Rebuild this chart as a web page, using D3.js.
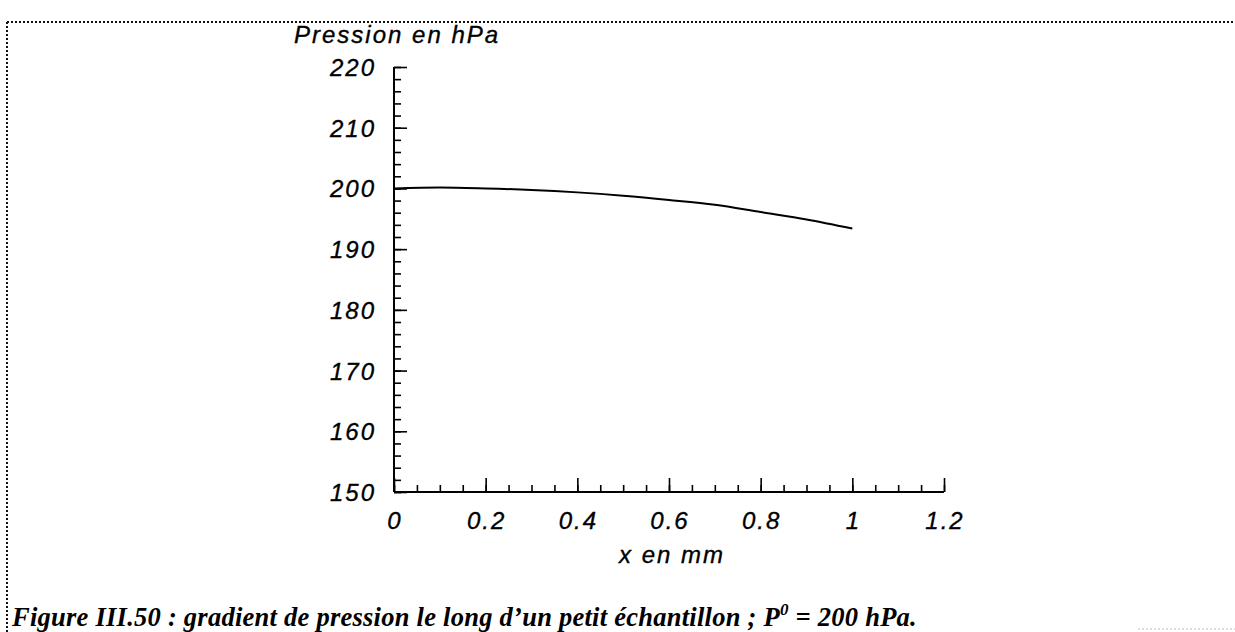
<!DOCTYPE html>
<html><head><meta charset="utf-8">
<script src="https://cdn.jsdelivr.net/npm/d3@7"></script>
<style>body{margin:0;background:#fff;}svg{display:block;}</style>
</head><body>
<svg id="c" width="1235" height="632"></svg>
<script>
const xValues = [0, 0.1, 0.2, 0.3, 0.4, 0.5, 0.6, 0.7, 0.8, 0.9, 1.0];
const pressure = [200.0, 200.15, 200.0, 199.75, 199.35, 198.8, 198.1, 197.3, 196.1, 194.9, 193.4];
const xTicks = [0, 0.2, 0.4, 0.6, 0.8, 1, 1.2];
const yTicks = [150, 160, 170, 180, 190, 200, 210, 220];
const yTitle = "Pression en hPa";
const xTitle = "x en mm";

const svg = d3.select("#c");
const x = d3.scaleLinear().domain([0, 1.2]).range([394, 944]);
const y = d3.scaleLinear().domain([150, 220]).range([492, 67]);
const labelFont = "'Liberation Sans', Arial, sans-serif";
const LS = 2;
const FS = 24;

function styleLabel(sel) {
  return sel.attr("font-family", labelFont).attr("font-style", "italic").attr("font-size", FS)
    .attr("letter-spacing", LS).attr("fill", "#000").attr("stroke", "#000").attr("stroke-width", 0.35);
}

// dotted frame
const frame = svg.append("g").attr("stroke", "#111").attr("stroke-width", 2).attr("stroke-dasharray", "2,2");
frame.append("line").attr("x1", 7).attr("y1", 22).attr("x2", 1235).attr("y2", 22);
frame.append("line").attr("x1", 7).attr("y1", 22).attr("x2", 7).attr("y2", 632);
svg.append("line").attr("x1", 1138).attr("y1", 629).attr("x2", 1235).attr("y2", 629)
  .attr("stroke", "#bbb").attr("stroke-width", 1).attr("stroke-dasharray", "2,2");

// y axis
const yMinor = d3.range(150, 220.1, 2);
const gy2 = svg.append("g").attr("transform", "translate(394,0)")
  .call(d3.axisRight(y).tickValues(yMinor).tickSize(7).tickFormat(""));
const gy = svg.append("g").attr("transform", "translate(394,0)")
  .call(d3.axisRight(y).tickValues(yTicks).tickSize(13).tickFormat(""));
[gy, gy2].forEach(g => {
  g.selectAll("path.domain").attr("stroke", "#000").attr("stroke-width", 2).attr("d", `M0,${y(220)}V${y(150)}`);
  g.selectAll(".tick line").attr("stroke", "#000").attr("stroke-width", 1.6);
});
styleLabel(svg.append("g").selectAll("text").data(yTicks).join("text")
  .attr("x", 374 + LS).attr("y", d => y(d) + 9).attr("text-anchor", "end"))
  .text(d => d);

// x axis
const xMinor = d3.range(0, 1.2001, 0.05);
const gx2 = svg.append("g").attr("transform", "translate(0,492)")
  .call(d3.axisTop(x).tickValues(xMinor).tickSize(7).tickFormat(""));
const gx = svg.append("g").attr("transform", "translate(0,492)")
  .call(d3.axisTop(x).tickValues(xTicks).tickSize(14).tickFormat(""));
[gx, gx2].forEach(g => {
  g.selectAll("path.domain").attr("stroke", "#000").attr("stroke-width", 2).attr("d", `M${x(0)},0H${x(1.2)}`);
  g.selectAll(".tick line").attr("stroke", "#000").attr("stroke-width", 1.6);
});
styleLabel(svg.append("g").selectAll("text").data(xTicks).join("text")
  .attr("x", d => x(d) + LS / 2).attr("y", 529).attr("text-anchor", "middle"))
  .text(d => d);

// titles
styleLabel(svg.append("text").attr("x", 294).attr("y", 43)).text(yTitle);
styleLabel(svg.append("text").attr("x", 671 + LS / 2).attr("y", 563).attr("text-anchor", "middle")).text(xTitle);

// curve
const line = d3.line().x((d, i) => x(xValues[i])).y(d => y(d)).curve(d3.curveMonotoneX);
svg.append("path").datum(pressure).attr("d", line)
  .attr("fill", "none").attr("stroke", "#000").attr("stroke-width", 2);

// caption
const cap = svg.append("text").attr("x", 12).attr("y", 626)
  .attr("font-family", "'Liberation Serif', 'Times New Roman', serif")
  .attr("font-weight", "bold").attr("font-style", "italic").attr("font-size", 26.5)
  .attr("letter-spacing", 0.25);
cap.append("tspan").text("Figure III.50 : gradient de pression le long d\u2019un petit \u00e9chantillon ; P");
cap.append("tspan").attr("dy", -11).attr("font-size", 17).text("0");
cap.append("tspan").attr("dy", 11).text(" = 200 hPa.");
</script>
</body></html>
